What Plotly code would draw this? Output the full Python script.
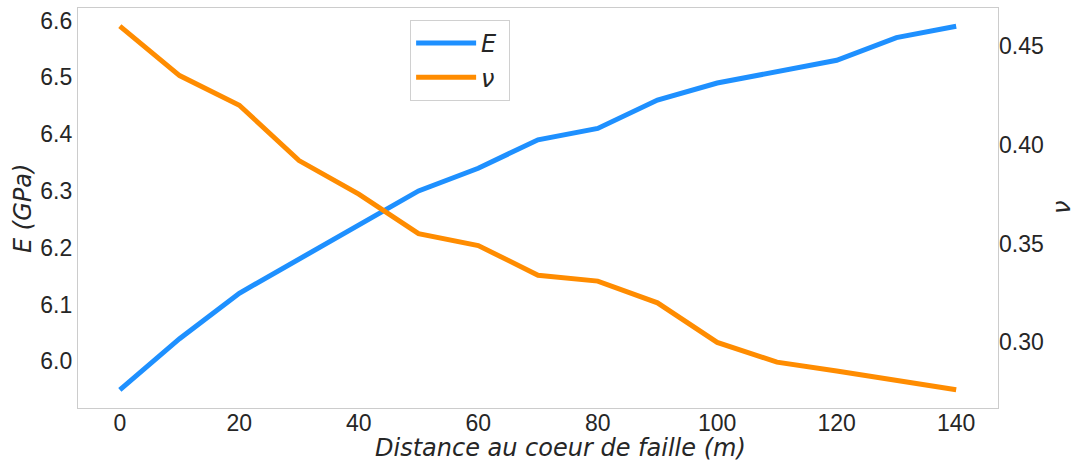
import plotly.graph_objects as go

distance = [0, 10, 20, 30, 40, 50, 60, 70, 80, 90, 100, 110, 120, 130, 140]
young_E = [5.95, 6.04, 6.12, 6.18, 6.24, 6.30, 6.34, 6.39, 6.41, 6.46, 6.49, 6.51, 6.53, 6.57, 6.59]
poisson_nu = [0.460, 0.435, 0.420, 0.392, 0.375, 0.355, 0.349, 0.334, 0.331, 0.320, 0.300, 0.290, 0.2855, 0.281, 0.276]

TICK_FONT = dict(family="Liberation Sans, Arial, sans-serif", size=23, color="#262626")
LABEL_FONT = dict(family="DejaVu Sans, sans-serif", size=24, color="#262626")

fig = go.Figure()
fig.add_trace(go.Scatter(x=distance, y=young_E, mode="lines", name="<i>E</i>\u00a0",
                         line=dict(color="#1E90FF", width=5), yaxis="y"))
fig.add_trace(go.Scatter(x=distance, y=poisson_nu, mode="lines", name="<i>ν</i>\u00a0",
                         line=dict(color="#FF8C00", width=5), yaxis="y2"))

def rng(vals, pad=0.05):
    lo, hi = min(vals), max(vals)
    d = (hi - lo) * pad
    return [lo - d, hi + d]

fig.update_layout(
    width=1075, height=461,
    margin=dict(l=78, r=77, t=8, b=53),
    paper_bgcolor="white", plot_bgcolor="white",
    showlegend=True,
    legend=dict(x=0.361, y=0.97, xanchor="left", yanchor="top",
                bgcolor="white", bordercolor="#d0d0d0", borderwidth=1,
                font=dict(family="DejaVu Sans, sans-serif", size=24, color="#262626"),
                itemwidth=60, tracegroupgap=4),
    xaxis=dict(range=rng(distance), tickvals=list(range(0, 141, 20)), automargin=False,
               showgrid=False, zeroline=False, showline=True, mirror=True,
               linecolor="#cccccc", linewidth=1.2, ticks="outside", ticklen=0,
               tickcolor="rgba(0,0,0,0)", ticklabelstandoff=-6, tickfont=TICK_FONT),
    yaxis=dict(range=rng(young_E), tickvals=[6.0, 6.1, 6.2, 6.3, 6.4, 6.5, 6.6], tickformat=".1f",
               automargin=False,
               showgrid=False, zeroline=False, showline=True, mirror=True,
               linecolor="#cccccc", linewidth=1.2, ticks="", tickfont=TICK_FONT),
    yaxis2=dict(range=rng(poisson_nu), tickvals=[0.30, 0.35, 0.40, 0.45], tickformat=".2f",
                automargin=False,
                overlaying="y", side="right", showgrid=False, zeroline=False,
                showline=False, ticks="", tickfont=TICK_FONT),
    annotations=[
        dict(text="<i>Distance au coeur de faille (m)</i>", xref="paper", yref="paper",
             x=0.524, y=-0.1, xanchor="center", yanchor="middle", showarrow=False, font=LABEL_FONT),
        dict(text="<i>E (GPa)</i>", xref="paper", yref="paper", textangle=-90,
             x=-0.0598, y=0.5, xanchor="center", yanchor="middle", showarrow=False, font=LABEL_FONT),
        dict(text="<i>ν</i>", xref="paper", yref="paper", textangle=-90,
             x=1.0696, y=0.5, xanchor="center", yanchor="middle", showarrow=False, font=LABEL_FONT),
    ],
)

fig.write_html("out.html", config={"displayModeBar": False},
               post_script="document.body.style.margin='0';document.body.style.overflow='hidden';")
